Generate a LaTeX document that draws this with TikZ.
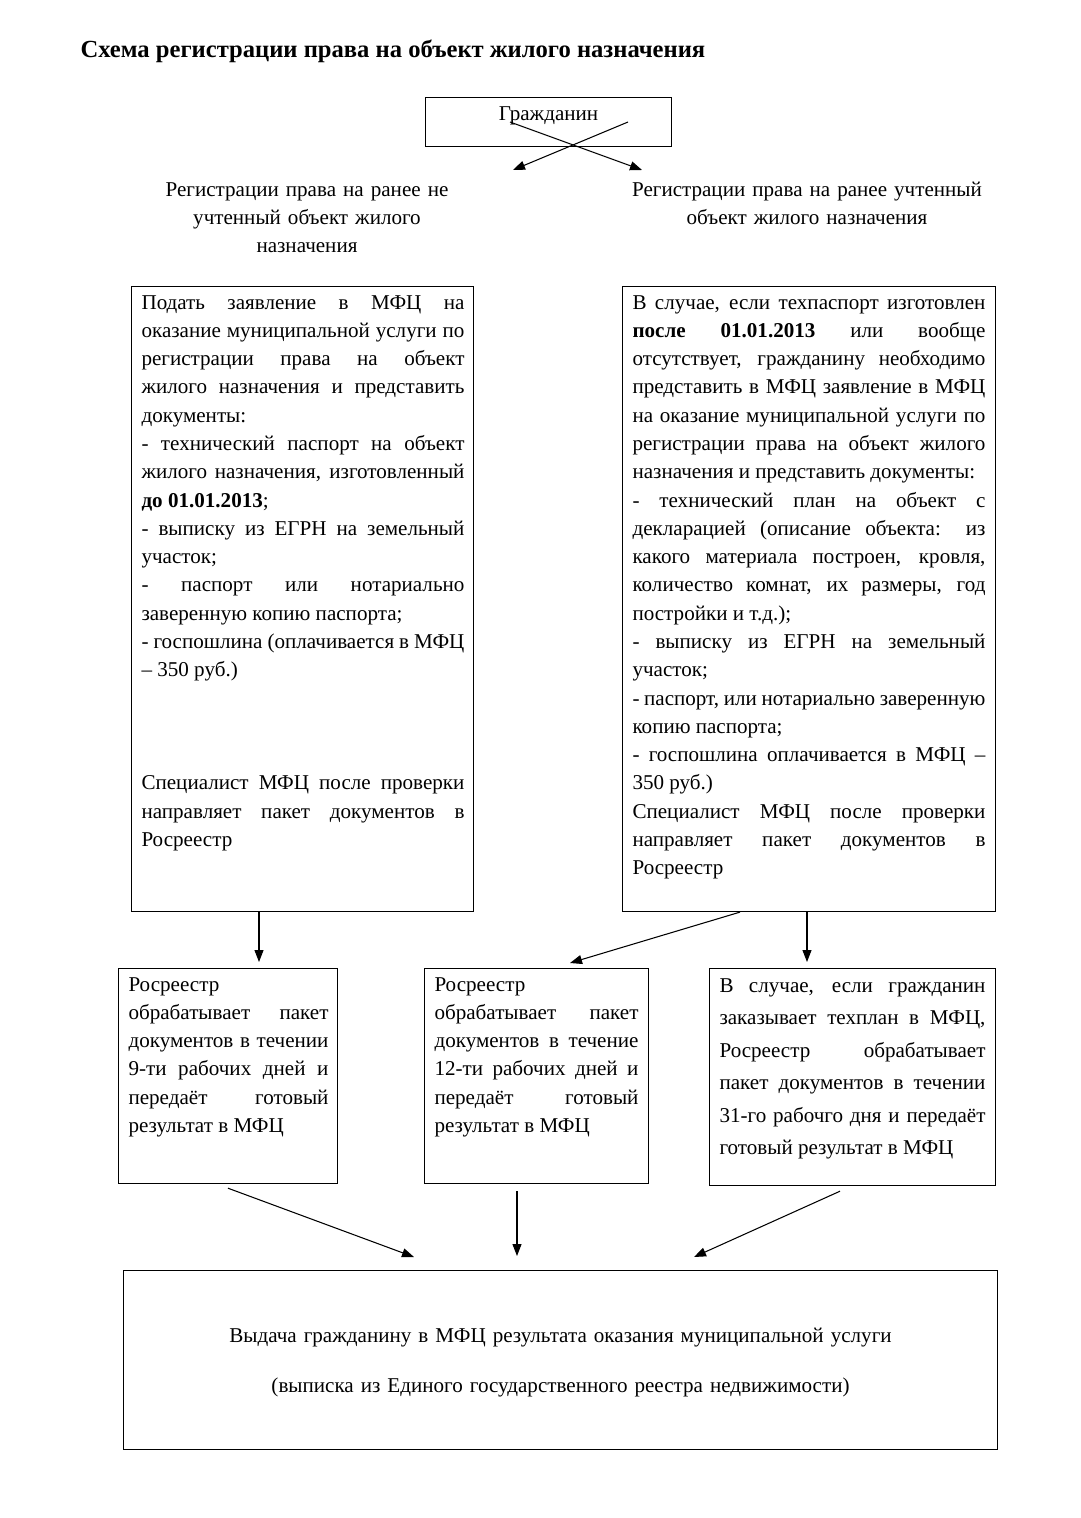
\documentclass[tikz,border=0pt]{standalone}
\usepackage{fontspec}
\setmainfont{Liberation Serif}
\usetikzlibrary{arrows.meta, calc}
\tikzset{
  every picture/.style={x=0.02cm, y=-0.02cm, line width=0.6pt},
  frame/.style={draw, line width=0.7pt, inner sep=0pt, anchor=north west},
  arrow/.style={-{Triangle[length=2.4mm, width=1.8mm]}, line width=0.6pt},
  title/.style={font=\fontsize{14}{16}\selectfont\bfseries, anchor=base west, inner sep=0pt},
  heading/.style={font=\fontsize{12}{16.1}\selectfont, align=center, anchor=base, inner sep=0pt},
  body/.style={font=\fontsize{12}{#1}\selectfont, align=justify, anchor=base west, inner sep=0pt,
    execute at begin node={\tolerance=10000\hbadness=10000\hyphenpenalty=10000\exhyphenpenalty=10000}},
  body/.default=16.1,
}

\begin{document}
\begin{tikzpicture}
  \useasboundingbox[fill=white] (0,0) rectangle (1080,1518);
  \node[title] (head) at (80,57) {Схема регистрации права на объект жилого назначения};
  % citizen and the two branches
  \node[frame, minimum width=4.92cm, text height=13pt, text depth=14.7pt, font=\fontsize{12}{16}\selectfont] (cit) at (425,97) {Гражданин};
  \draw[arrow] ($(cit.north west)+(85,25)$) -- ($(cit.north west)+(217,73)$);
  \draw[arrow] ($(cit.north west)+(203,25)$) -- ($(cit.north west)+(88,73)$);
  \node[heading, text width=7cm] (lhead) at (307,196) {Регистрации права на ранее не\\ учтенный объект жилого\\ назначения};
  \node[heading, text width=8cm] (rhead) at (807,196) {Регистрации права на ранее учтенный\\ объект жилого назначения};
  % the two application boxes
  \node[frame, minimum width=6.84cm, minimum height=12.5cm] (lbox) at (131,286) {};
  \node[frame, minimum width=7.46cm, minimum height=12.5cm] (rbox) at (622,286) {};
  \node[body, text width=6.46cm] (ltxt) at ($(lbox.north west)+(10,23)$) {Подать заявление в МФЦ на\linebreak
    оказание муниципальной услуги по\linebreak регистрации права на объект\linebreak
    жилого назначения и представить\linebreak документы:\par
    - технический паспорт на объект\linebreak жилого назначения, изготовленный\linebreak
    \textbf{до 01.01.2013};\par
    - выписку из ЕГРН на земельный\linebreak участок;\par
    - паспорт или нотариально\linebreak заверенную копию паспорта;\par
    - госпошлина (оплачивается в МФЦ\linebreak – 350 руб.)\par
    \vspace{3\baselineskip}
    Специалист МФЦ после проверки\linebreak направляет пакет документов в\linebreak Росреестр};
  \node[body, text width=7.06cm] (rtxt) at ($(rbox.north west)+(10,23)$) {В случае, если техпаспорт изготовлен\linebreak
    \textbf{после 01.01.2013} или вообще\linebreak отсутствует, гражданину необходимо\linebreak
    представить в МФЦ заявление в МФЦ\linebreak на оказание муниципальной услуги по\linebreak
    регистрации права на объект жилого\linebreak назначения и представить документы:\par
    - технический план на объект с\linebreak декларацией (описание объекта: из\linebreak
    какого материала построен, кровля,\linebreak количество комнат, их размеры, год\linebreak
    постройки и т.д.);\par
    - выписку из ЕГРН на земельный\linebreak участок;\par
    - паспорт, или нотариально заверенную\linebreak копию паспорта;\par
    - госпошлина оплачивается в МФЦ –\linebreak 350 руб.)\par
    Специалист МФЦ после проверки\linebreak направляет пакет документов в\linebreak Росреестр};
  % Rosreestr boxes
  \node[frame, minimum width=4.38cm, minimum height=4.3cm] (sb1) at (118,968) {};
  \node[frame, minimum width=4.48cm, minimum height=4.3cm] (sb2) at (424,968) {};
  \node[frame, minimum width=5.72cm, minimum height=4.34cm] (sb3) at (709,968) {};
  \node[body, text width=4.0cm] (t1) at ($(sb1.north west)+(10,23)$) {Росреестр\\
    обрабатывает пакет\linebreak документов в течении\linebreak 9-ти рабочих дней и\linebreak
    передаёт готовый\linebreak результат в МФЦ};
  \node[body, text width=4.08cm] (t2) at ($(sb2.north west)+(10,23)$) {Росреестр\\
    обрабатывает пакет\linebreak документов в течение\linebreak 12-ти рабочих дней и\linebreak
    передаёт готовый\linebreak результат в МФЦ};
  \node[body=18.5, text width=5.32cm] (t3) at ($(sb3.north west)+(10,24)$) {В случае, если гражданин\linebreak
    заказывает техплан в МФЦ,\linebreak Росреестр обрабатывает\linebreak пакет документов в течении\linebreak
    31-го рабочго дня и передаёт\linebreak готовый результат в МФЦ};
  \draw[arrow] (259,0 |- lbox.south) -- ($(259,0 |- sb1.north)+(0,-6)$);
  \draw[arrow] (740,0 |- rbox.south) -- ($(570,0 |- sb2.north)+(0,-5)$);
  \draw[arrow] (807,0 |- rbox.south) -- ($(807,0 |- sb3.north)+(0,-6)$);
  % result
  \node[frame, minimum width=17.48cm, minimum height=3.58cm] (res) at (123,1270) {};
  \node[heading, text width=16cm, font=\fontsize{12}{29}\selectfont] (rtext) at ($(res.north)+(0,72)$) {Выдача гражданину в МФЦ результата оказания муниципальной услуги\\
    (выписка из Единого государственного реестра недвижимости)};
  \draw[arrow] ($(228,0 |- sb1.south)+(0,4)$) -- ($(414,0 |- res.north)+(0,-13)$);
  \draw[arrow] ($(517,0 |- sb2.south)+(0,7)$) -- ($(517,0 |- res.north)+(0,-14)$);
  \draw[arrow] ($(840,0 |- sb3.south)+(0,5)$) -- ($(694,0 |- res.north)+(0,-13)$);
\end{tikzpicture}
\end{document}
